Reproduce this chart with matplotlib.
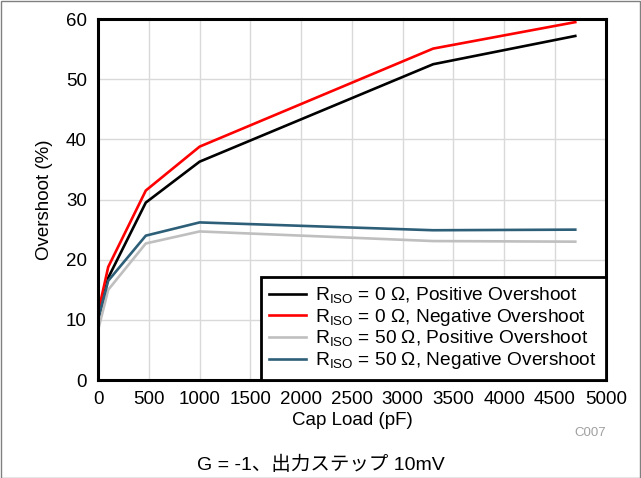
import matplotlib.pyplot as plt
from matplotlib.patches import Rectangle

plt.rcParams['font.family'] = ['Liberation Sans', 'Noto Sans CJK JP', 'DejaVu Sans']
plt.rcParams['mathtext.fontset'] = 'custom'
plt.rcParams['mathtext.rm'] = 'Liberation Sans'

cap_load = [0, 100, 470, 1000, 3300, 4700]
pos_0 = [10.0, 17.0, 29.5, 36.3, 52.5, 57.2]
neg_0 = [11.2, 18.8, 31.5, 38.8, 55.1, 59.5]
pos_50 = [8.3, 15.0, 22.7, 24.7, 23.1, 23.0]
neg_50 = [10.2, 16.5, 24.0, 26.2, 24.9, 25.0]

labels = [r'R$_{\rm ISO}$ = 0 Ω, Positive Overshoot',
          r'R$_{\rm ISO}$ = 0 Ω, Negative Overshoot',
          r'R$_{\rm ISO}$ = 50 Ω, Positive Overshoot',
          r'R$_{\rm ISO}$ = 50 Ω, Negative Overshoot']
colors = ['black', '#ff0000', '#bfbfbf', '#2e5f78']

fig = plt.figure(figsize=(6.41, 4.78), dpi=100)
ax = fig.add_axes([0.153, 0.205, 0.792, 0.755])

for ys, lab, c in zip([pos_0, neg_0, pos_50, neg_50], labels, colors):
    ax.plot(cap_load, ys, color=c, lw=1.9, label=lab)

ax.set_xlim(0, 5000)
ax.set_ylim(0, 60)
ax.set_xticks(range(0, 5001, 500))
ax.set_yticks(range(0, 61, 10))
ax.grid(True, color='#d9d9d9', lw=1)
ax.tick_params(length=0, labelsize=13.5, pad=8)
for s in ax.spines.values():
    s.set_linewidth(2.2)
ax.set_xlabel('Cap Load (pF)', fontsize=13.5, labelpad=3)
ax.set_ylabel('Overshoot (%)', fontsize=13.5, labelpad=9)

leg = ax.legend(loc='lower right', fontsize=13.8, fancybox=False, framealpha=1,
                edgecolor='black', borderaxespad=0, handlelength=1.9,
                labelspacing=0.05, handletextpad=0.5, borderpad=0.45)
leg.get_frame().set_linewidth(2)

fig.text(0.945, 0.087, 'C007', fontsize=9.5, color='#a0a0a0', ha='right')
fig.text(0.5, 0.016, 'G = -1、出力ステップ 10mV', fontsize=14, ha='center')
fig.patches.append(Rectangle((0.002, 0), 0.996, 0.997, transform=fig.transFigure,
                             fill=False, edgecolor='#808080', lw=1))

fig.savefig('out.png', dpi=100)
